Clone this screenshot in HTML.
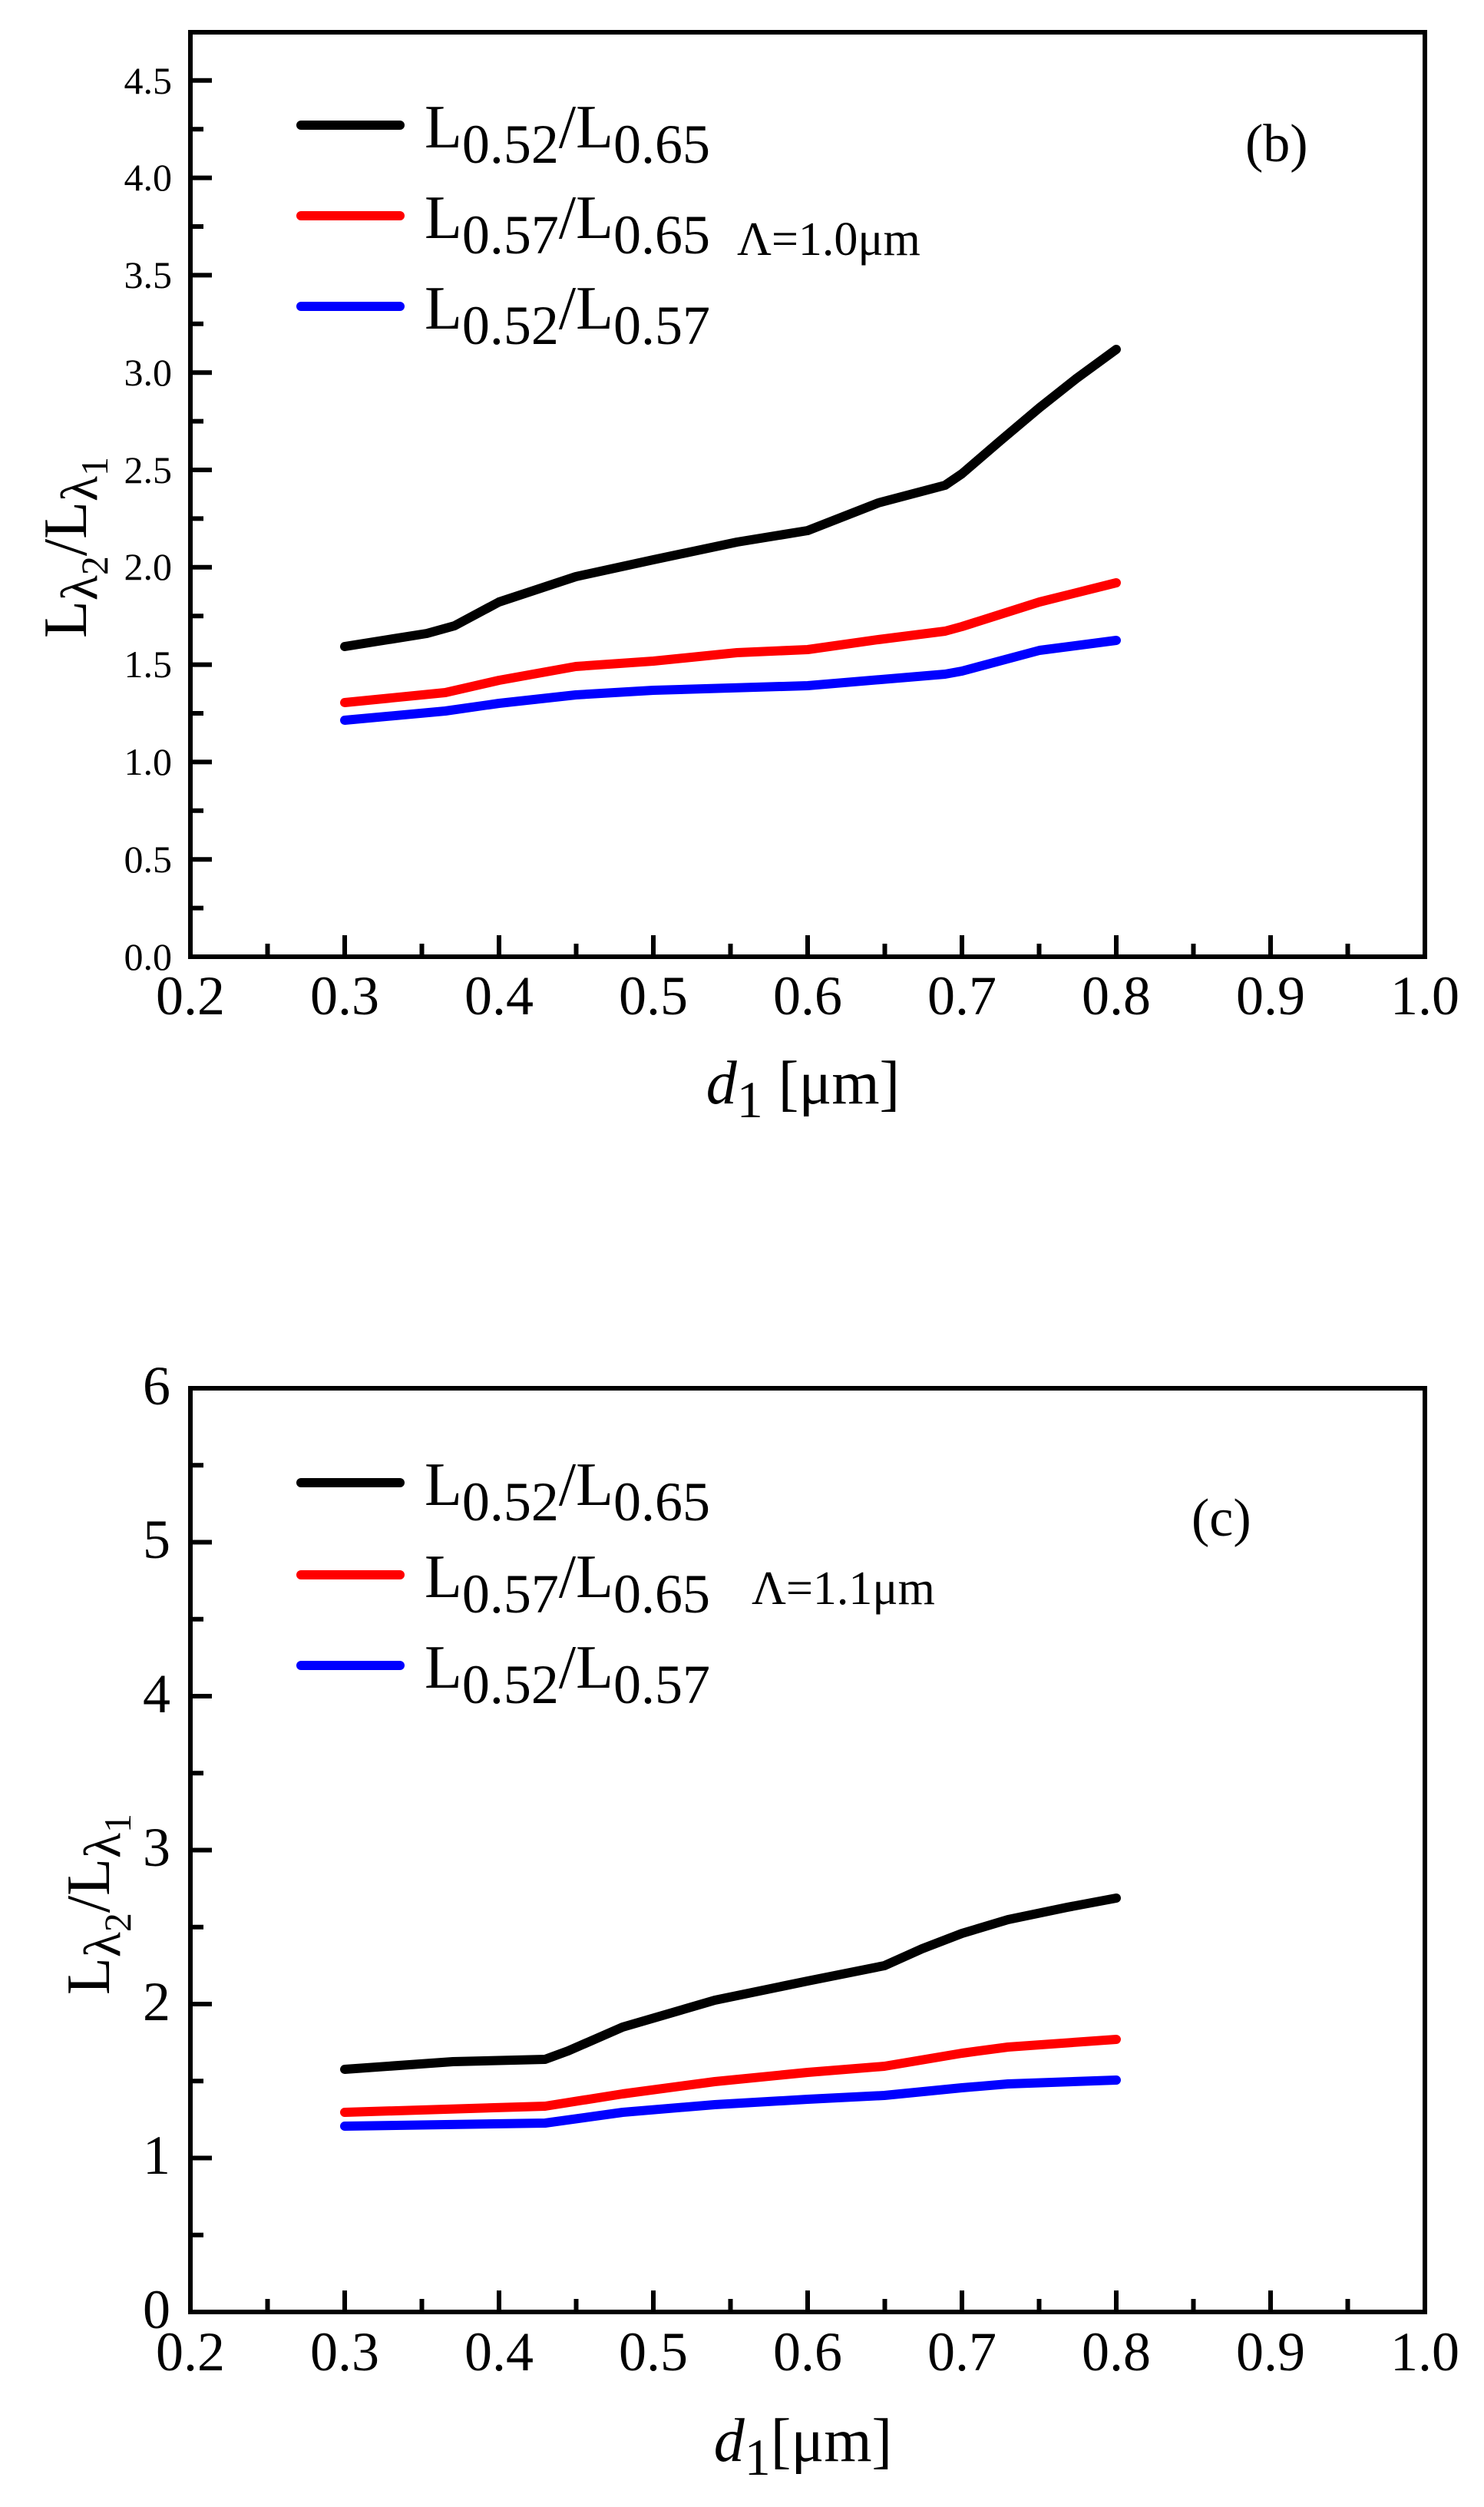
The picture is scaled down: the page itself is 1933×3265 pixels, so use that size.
<!DOCTYPE html>
<html><head><meta charset="utf-8"><style>
html,body{margin:0;padding:0;background:#fff;}
svg{display:block;}
text{font-family:"Liberation Serif","Times New Roman",serif;fill:#000;}
</style></head><body>
<svg width="1933" height="3265" viewBox="0 0 1933 3265" xmlns="http://www.w3.org/2000/svg">
<g fill="none" stroke="#000" stroke-width="6" stroke-linecap="square">
<rect x="248" y="42" width="1608" height="1204"/>
<rect x="248" y="1808" width="1608" height="1203"/>
<path d="M248 1246h25M248 1182.6h14M248 1119.2h25M248 1055.8h14M248 992.4h25M248 929h14M248 865.6h25M248 802.2h14M248 738.8h25M248 675.4h14M248 612h25M248 548.6h14M248 485.2h25M248 421.8h14M248 358.4h25M248 295h14M248 231.6h25M248 168.2h14M248 104.8h25"/>
<path d="M248 3011h25M248 2910.75h14M248 2810.5h25M248 2710.25h14M248 2610h25M248 2509.75h14M248 2409.5h25M248 2309.25h14M248 2209h25M248 2108.75h14M248 2008.5h25M248 1908.25h14"/>
<path d="M449 1246v-25M650 1246v-25M851 1246v-25M1052 1246v-25M1253 1246v-25M1454 1246v-25M1655 1246v-25M348.5 1246v-14M549.5 1246v-14M750.5 1246v-14M951.5 1246v-14M1152.5 1246v-14M1353.5 1246v-14M1554.5 1246v-14M1755.5 1246v-14"/>
<path d="M449 3011v-25M650 3011v-25M851 3011v-25M1052 3011v-25M1253 3011v-25M1454 3011v-25M1655 3011v-25M348.5 3011v-14M549.5 3011v-14M750.5 3011v-14M951.5 3011v-14M1152.5 3011v-14M1353.5 3011v-14M1554.5 3011v-14M1755.5 3011v-14"/>
</g>
<g fill="none" stroke-width="12" stroke-linecap="round" stroke-linejoin="round">
<polyline stroke="#000" points="449,842 556,825 592,815 650,784 750,751 851,729 960,706 1052,691 1144,655 1231,632 1253,617 1303,574 1354,531 1402,493 1454,455"/>
<polyline stroke="#ff0000" points="449,915 580,902 650,886 750,868 851,861 960,850 1052,846 1144,833 1231,822 1253,816 1354,784 1454,759"/>
<polyline stroke="#0000ff" points="449,938 580,926 650,916 750,905 851,899 1052,893 1231,878 1253,874 1354,847 1454,834"/>
<line stroke="#000" x1="392" y1="163" x2="521" y2="163"/>
<line stroke="#ff0000" x1="392" y1="281" x2="521" y2="281"/>
<line stroke="#0000ff" x1="392" y1="399" x2="521" y2="399"/>
<polyline stroke="#000" points="449,2695 590,2685 710,2682 740,2671 811,2640 931,2605 1052,2580 1152,2560 1201,2538 1253,2518 1313,2500 1390,2484 1454,2472"/>
<polyline stroke="#ff0000" points="449,2751 710,2743 811,2727 931,2711 1052,2699 1152,2691 1253,2674 1313,2666 1454,2656"/>
<polyline stroke="#0000ff" points="449,2769 710,2765 811,2751 931,2741 1052,2734 1152,2729 1253,2719 1313,2714 1454,2709"/>
<line stroke="#000" x1="392" y1="1931" x2="521" y2="1931"/>
<line stroke="#ff0000" x1="392" y1="2051" x2="521" y2="2051"/>
<line stroke="#0000ff" x1="392" y1="2169" x2="521" y2="2169"/>
</g>
<g font-size="50" text-anchor="end">
<text x="224" y="1263">0.0</text><text x="224" y="1136">0.5</text><text x="224" y="1009">1.0</text><text x="224" y="882">1.5</text><text x="224" y="755">2.0</text><text x="224" y="629">2.5</text><text x="224" y="502">3.0</text><text x="224" y="375">3.5</text><text x="224" y="248">4.0</text><text x="224" y="122">4.5</text>
</g>
<g font-size="72" text-anchor="end">
<text x="222" y="3032">0</text><text x="222" y="2831">1</text><text x="222" y="2631">2</text><text x="222" y="2430">3</text><text x="222" y="2230">4</text><text x="222" y="2029">5</text><text x="222" y="1829">6</text>
</g>
<g font-size="72" text-anchor="middle">
<text x="248" y="1321">0.2</text><text x="449" y="1321">0.3</text><text x="650" y="1321">0.4</text><text x="851" y="1321">0.5</text><text x="1052" y="1321">0.6</text><text x="1253" y="1321">0.7</text><text x="1454" y="1321">0.8</text><text x="1655" y="1321">0.9</text><text x="1856" y="1321">1.0</text>
<text x="248" y="3087">0.2</text><text x="449" y="3087">0.3</text><text x="650" y="3087">0.4</text><text x="851" y="3087">0.5</text><text x="1052" y="3087">0.6</text><text x="1253" y="3087">0.7</text><text x="1454" y="3087">0.8</text><text x="1655" y="3087">0.9</text><text x="1856" y="3087">1.0</text>
</g>
<g font-size="80">
<text x="553" y="192">L<tspan font-size="72" dy="20">0.52</tspan><tspan dy="-20">/L</tspan><tspan font-size="72" dy="20">0.65</tspan></text>
<text x="553" y="310">L<tspan font-size="72" dy="20">0.57</tspan><tspan dy="-20">/L</tspan><tspan font-size="72" dy="20">0.65</tspan></text>
<text x="553" y="428">L<tspan font-size="72" dy="20">0.52</tspan><tspan dy="-20">/L</tspan><tspan font-size="72" dy="20">0.57</tspan></text>
<text x="553" y="1960">L<tspan font-size="72" dy="20">0.52</tspan><tspan dy="-20">/L</tspan><tspan font-size="72" dy="20">0.65</tspan></text>
<text x="553" y="2080">L<tspan font-size="72" dy="20">0.57</tspan><tspan dy="-20">/L</tspan><tspan font-size="72" dy="20">0.65</tspan></text>
<text x="553" y="2198">L<tspan font-size="72" dy="20">0.52</tspan><tspan dy="-20">/L</tspan><tspan font-size="72" dy="20">0.57</tspan></text>
<text x="1622" y="210" font-size="70">(b)</text>
<text x="1552" y="2000" font-size="70">(c)</text>
</g>
<text x="960" y="332" font-size="62">Λ=1.0μm</text>
<text x="979" y="2089" font-size="62">Λ=1.1μm</text>
<text font-size="80" text-anchor="middle" transform="translate(112,713) rotate(-90)">L<tspan font-size="68" dy="14">λ</tspan><tspan font-size="50" dy="14">2</tspan><tspan dy="-28">/L</tspan><tspan font-size="68" dy="14">λ</tspan><tspan font-size="50" dy="14">1</tspan></text>
<text font-size="80" text-anchor="middle" transform="translate(142,2480) rotate(-90)">L<tspan font-size="68" dy="14">λ</tspan><tspan font-size="50" dy="14">2</tspan><tspan dy="-28">/L</tspan><tspan font-size="68" dy="14">λ</tspan><tspan font-size="50" dy="14">1</tspan></text>
<text x="1046" y="1437" font-size="80" text-anchor="middle"><tspan font-style="italic">d</tspan><tspan font-size="68" dy="18">1</tspan><tspan dy="-18"> [μm]</tspan></text>
<text x="1046" y="3205" font-size="80" text-anchor="middle"><tspan font-style="italic">d</tspan><tspan font-size="68" dy="18">1</tspan><tspan dy="-18">[μm]</tspan></text>
</svg>
</body></html>
